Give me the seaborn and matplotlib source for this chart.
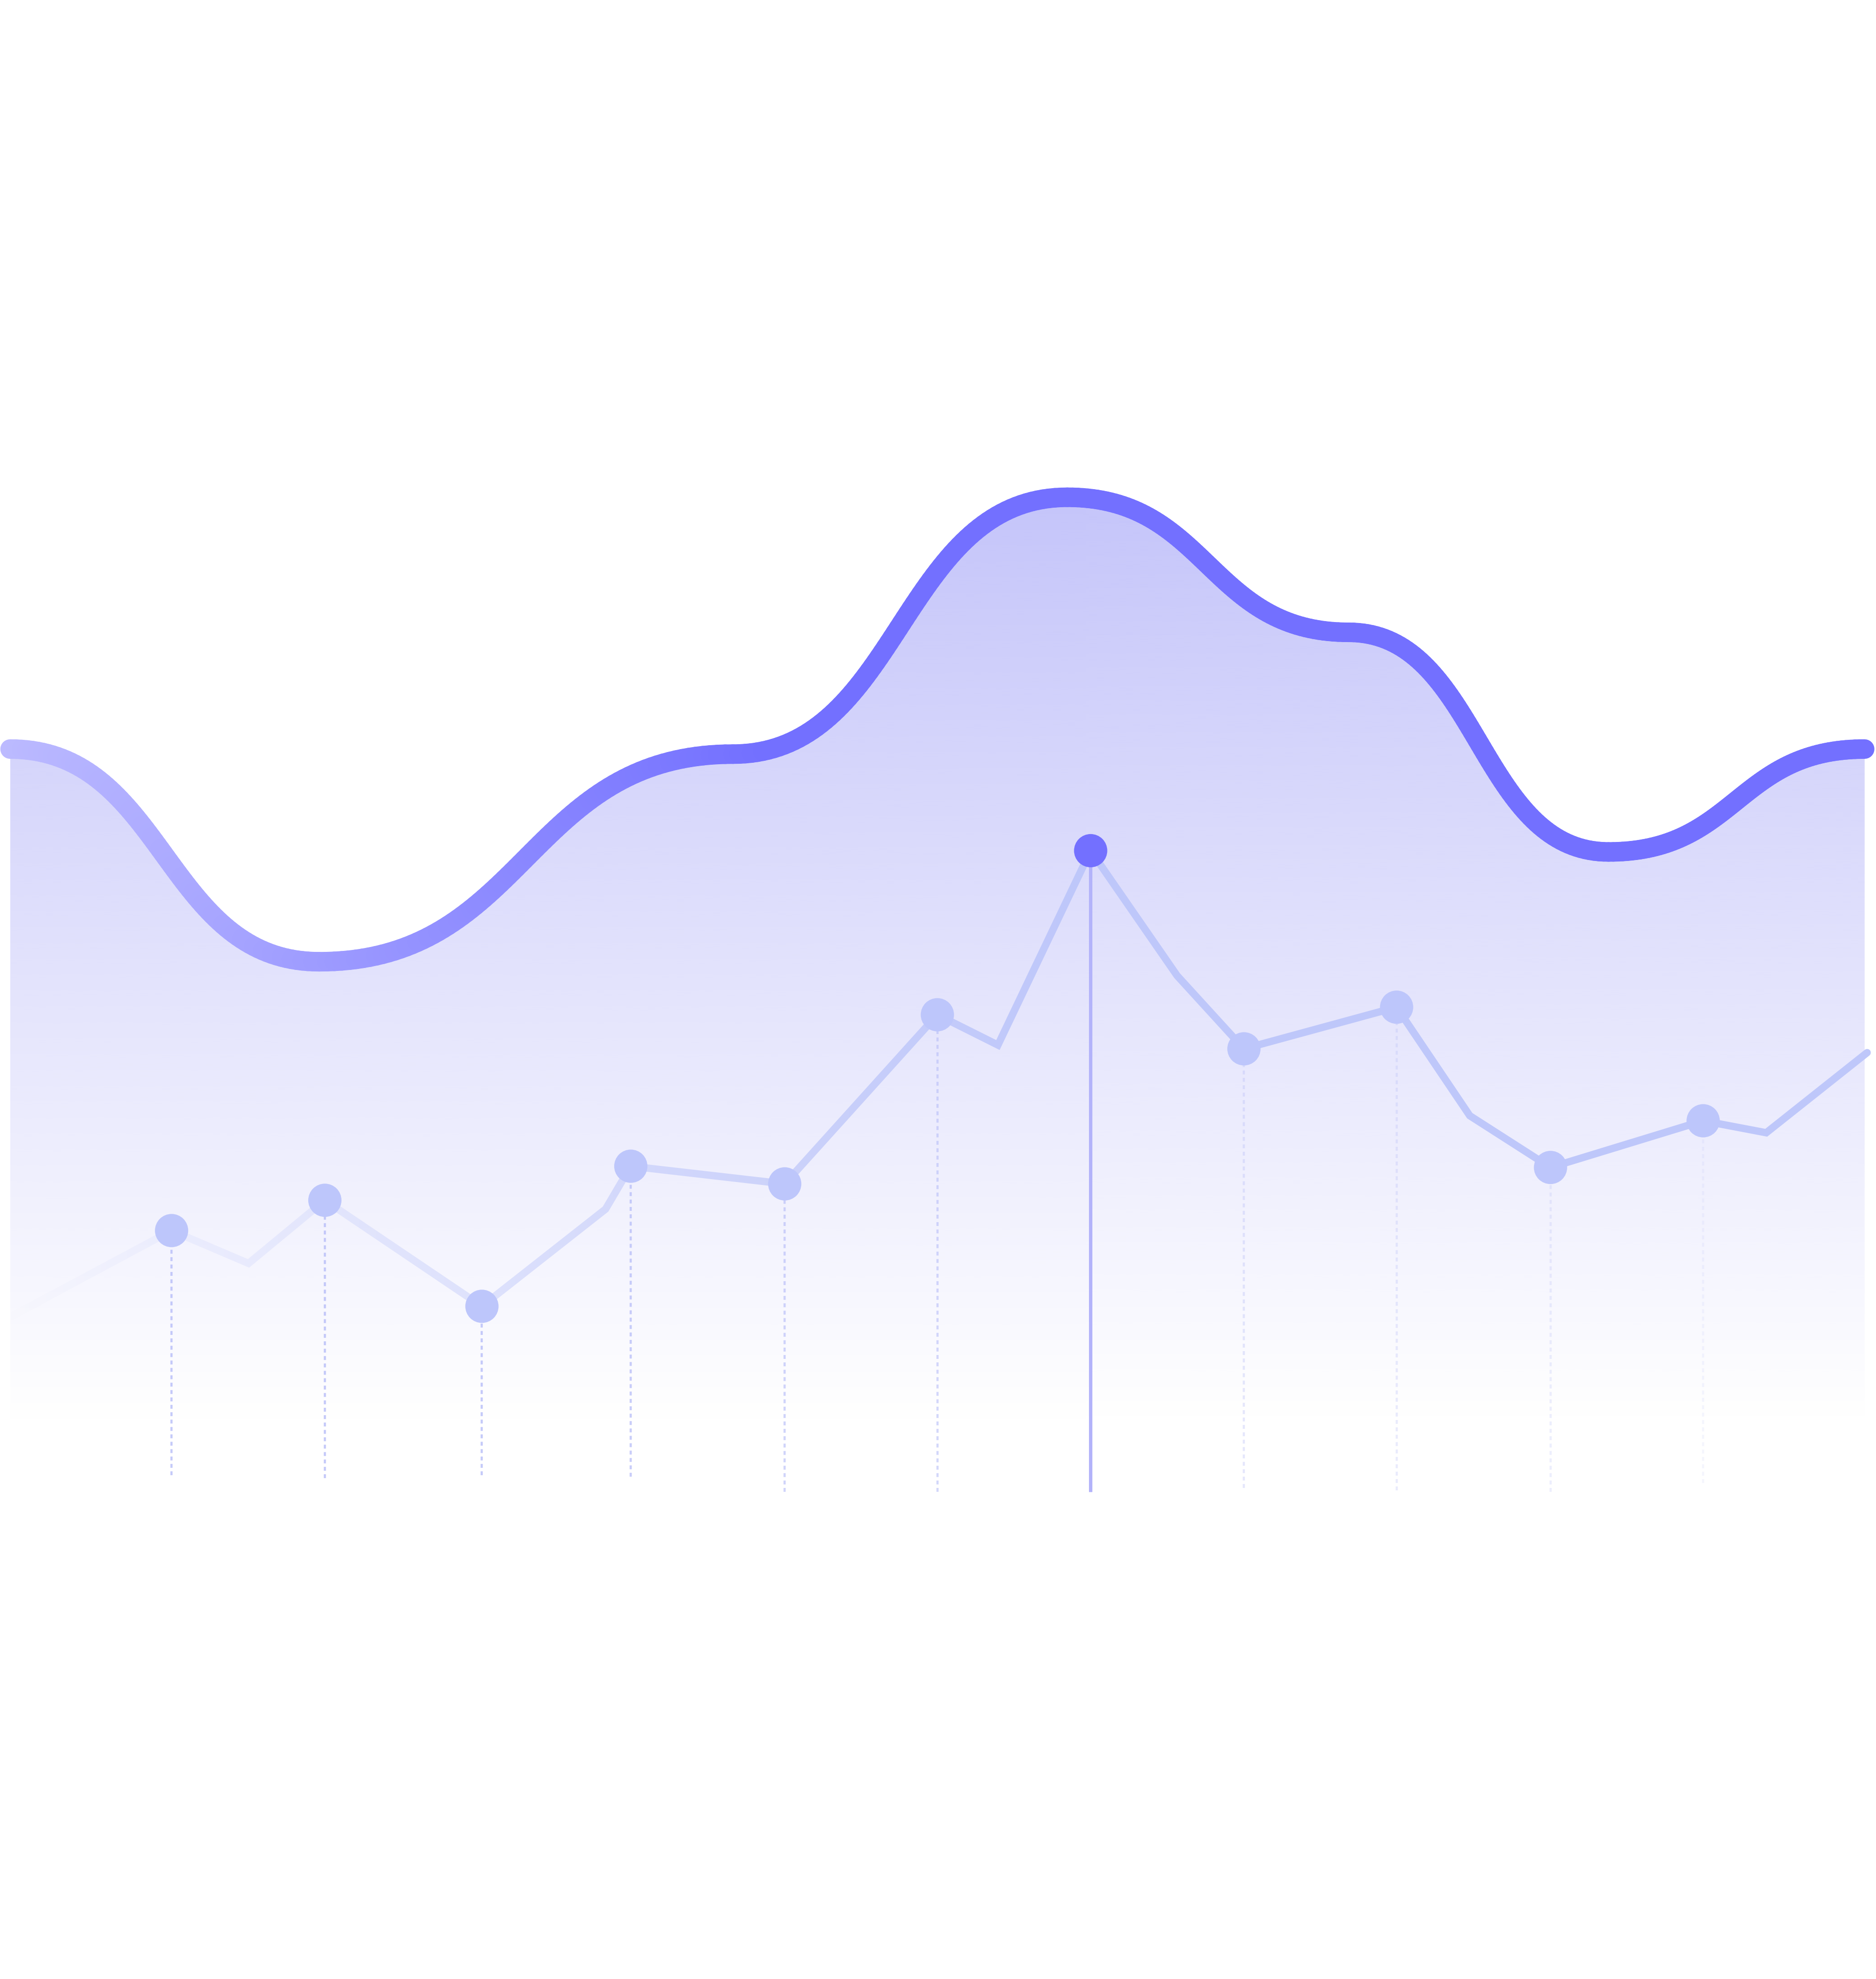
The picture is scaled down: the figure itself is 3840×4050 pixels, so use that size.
import numpy as np
import pandas as pd
import matplotlib
matplotlib.use("Agg")
import matplotlib.pyplot as plt
import seaborn as sns
from matplotlib.collections import LineCollection
from matplotlib.colors import to_rgb
from matplotlib.patches import Polygon

# layout units: x across a 1487-wide canvas, h = height above the bottom of a 1568-tall canvas
# knots of the big smooth wave (the area series)
wave_x = [8, 253, 581, 846, 1069, 1275, 1478]
wave_h = [974.5, 806, 970.5, 1174, 1067, 893, 974.5]

# zigzag series (all vertices) and the vertices that carry a dot
zig_x = [9, 136, 197, 257.5, 382, 480, 500, 622, 743, 791, 864.5,
         933, 986, 1107, 1165, 1229, 1350, 1400, 1480]
zig_h = [525, 593, 567, 617, 533, 610, 644, 630, 764, 740, 894,
         795, 737, 770, 684, 643, 680, 670.5, 734]
dot_idx = [1, 3, 4, 6, 7, 8, 10, 12, 13, 15, 16]
active_idx = 10

# drop lines under each dot: where they end and how strong they are
drop_bottom = [399, 397, 399, 398, 386, 386, 386, 389, 387, 386, 393]
drop_alpha = [0.8, 0.8, 0.8, 0.75, 0.65, 0.6, 1.0, 0.35, 0.3, 0.25, 0.15]

MAIN = "#7370ff"
ZIG = "#bec7fa"
DOT = "#bdc6fb"
DROP = "#b7bdf8"
ACTIVE_DROP = "#b3b3fa"
FILL_TOP = "#c5c5fa"
FILL_BOTTOM_H = 443


def wave_curve(xs, hs, n=80):
    # cubic segments with flat tangents at every knot
    cx, ch = [], []
    for x0, h0, x1, h1 in zip(xs[:-1], hs[:-1], xs[1:], hs[1:]):
        t = np.linspace(0, 1, n)
        xm = (x0 + x1) / 2
        bx = (1 - t) ** 3 * x0 + 3 * (1 - t) ** 2 * t * xm + 3 * (1 - t) * t ** 2 * xm + t ** 3 * x1
        bh = (1 - t) ** 3 * h0 + 3 * (1 - t) ** 2 * t * h0 + 3 * (1 - t) * t ** 2 * h1 + t ** 3 * h1
        cx.extend(bx if not cx else bx[1:])
        ch.extend(bh if not ch else bh[1:])
    return np.array(cx), np.array(ch)


def bg_color(h):
    # colour of the area fill (composited on white) at height h
    top = np.array(to_rgb(FILL_TOP))
    a = np.clip((h - FILL_BOTTOM_H) / (max(wave_h) - FILL_BOTTOM_H), 0, 1)[..., None]
    return top * a + (1 - a)


def main():
    sns.set_theme(style="white")
    fig = plt.figure(figsize=(38.4, 40.5), dpi=100)
    ax = fig.add_axes([0, 0, 1, 1])
    ax.set_xlim(0, 1487)
    ax.set_ylim(0, 1568)
    ax.axis("off")

    cx, ch = wave_curve(wave_x, wave_h)

    # gradient area under the wave
    clip = Polygon(np.column_stack([np.r_[cx, cx[-1], cx[0]], np.r_[ch, 0, 0]]),
                   closed=True, fc="none", ec="none", transform=ax.transData)
    ax.add_patch(clip)
    grad = np.zeros((512, 1, 4))
    grad[..., :3] = to_rgb(FILL_TOP)
    grad[:, 0, 3] = np.linspace(0, 1, 512)
    im = ax.imshow(grad, extent=[wave_x[0], wave_x[-1], FILL_BOTTOM_H, max(wave_h)],
                   origin="lower", aspect="auto", interpolation="bilinear", zorder=1)
    im.set_clip_path(clip)

    # zigzag line
    sns.lineplot(x=zig_x, y=zig_h, sort=False, estimator=None, color=ZIG,
                 linewidth=10.8, ax=ax, zorder=2)
    zline = ax.lines[-1]
    zline.set_solid_joinstyle("miter")
    zline.set_solid_capstyle("round")

    # fade the zigzag into the background towards the left
    x_end = zig_x[active_idx]
    fx = np.linspace(wave_x[0], x_end, 600)
    fh = np.linspace(300, max(wave_h), 600)
    FX, FH = np.meshgrid(fx, fh)
    fade = np.zeros(FX.shape + (4,))
    fade[..., :3] = bg_color(FH)
    fade[..., 3] = 1 - np.clip((FX - zig_x[0]) / (x_end - zig_x[0]), 0, 1)
    fim = ax.imshow(fade, extent=[wave_x[0], x_end, 300, max(wave_h)], origin="lower",
                    aspect="auto", interpolation="bilinear", zorder=3)
    fim.set_clip_path(clip)
    # hide the cap of the zigzag that pokes out left of the area
    ax.axvspan(-5, wave_x[0], color="white", lw=0, zorder=3)

    # drop lines
    for k, i in enumerate(dot_idx):
        x, h = zig_x[i], zig_h[i]
        if i == active_idx:
            ax.vlines(x, drop_bottom[k], h, colors=ACTIVE_DROP, linewidth=5, zorder=4)
        else:
            ax.vlines(x, drop_bottom[k], h, colors=[to_rgb(DROP) + (drop_alpha[k],)],
                      linewidth=3.2, linestyles=(0, (1.8, 1.6)), zorder=4)

    # dots
    dots = pd.DataFrame({
        "x": [zig_x[i] for i in dot_idx],
        "h": [zig_h[i] for i in dot_idx],
        "kind": ["active" if i == active_idx else "normal" for i in dot_idx],
    })
    sns.scatterplot(data=dots, x="x", y="h", hue="kind",
                    palette={"normal": DOT, "active": MAIN}, s=2400, linewidth=0,
                    legend=False, ax=ax, zorder=5)

    # the wave itself, lighter on the left
    pts = np.column_stack([cx, ch]).reshape(-1, 1, 2)
    segs = np.concatenate([pts[:-1], pts[1:]], axis=1)
    mid = (cx[:-1] + cx[1:]) / 2
    w = np.clip(0.52 * (1 - (mid - wave_x[0]) / 600), 0, 1)[:, None]
    cols = np.array(to_rgb(MAIN)) * (1 - w) + w
    lc = LineCollection(segs, colors=cols, linewidths=28.8, capstyle="round",
                        joinstyle="round", zorder=6)
    ax.add_collection(lc)

    ax.set_xlim(0, 1487)
    ax.set_ylim(0, 1568)
    fig.savefig("out.png", dpi=100, facecolor="white")


if __name__ == "__main__":
    main()
